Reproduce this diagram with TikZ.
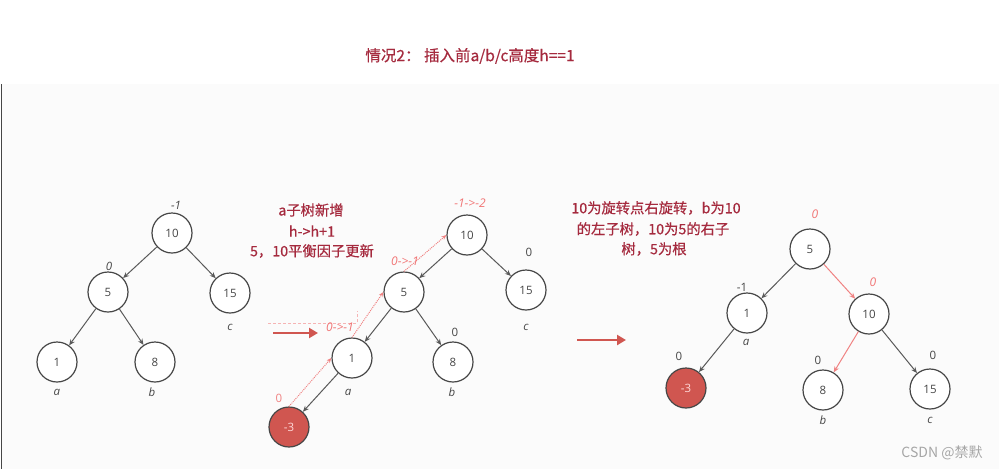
\documentclass[tikz,border=0pt]{standalone}
\usepackage{fontspec}
\setmainfont{Open Sans}
\newfontfamily\cjk[FakeBold=0.5]{Noto Sans CJK SC}
\newfontfamily\cjkw{Noto Sans CJK SC}
\usetikzlibrary{arrows.meta}
\definecolor{txtred}{RGB}{165,42,62}
\definecolor{fillred}{RGB}{208,86,80}
\definecolor{lightred}{RGB}{240,130,130}
\definecolor{ink}{RGB}{70,70,70}
\tikzset{
  tn/.style={circle,draw=ink,line width=1.2pt,minimum size=40pt,inner sep=0pt,font=\fontsize{11.5}{13}\selectfont,text=ink,fill=white},
  hot/.style={tn,fill=fillred,text=white!85!red},
  edge/.style={draw=ink!90,line width=1pt,-{Stealth[length=6pt,width=5pt]}},
  redge/.style={draw=lightred,line width=1pt,-{Stealth[length=6pt,width=5pt]}},
  dotarr/.style={draw=lightred,line width=1pt,densely dotted,-{Stealth[length=5pt,width=4pt]}},
  lab/.style={font=\fontsize{11.5}{13}\selectfont\itshape,text=ink},
  num/.style={font=\fontsize{11.5}{13}\selectfont,text=ink},
  rlab/.style={font=\fontsize{12}{13}\selectfont\itshape,text=lightred!90!red},
  note/.style={font=\cjk\fontsize{14.3}{15}\selectfont,text=txtred},
  bigarr/.style={draw=fillred,line width=2.4pt,-{Triangle[length=9pt,width=10pt]}}
}
\begin{document}
\begin{tikzpicture}[x=1pt,y=-1pt]
\useasboundingbox (0,0) rectangle (999,469);
\fill[white] (0,0) rectangle (999,469);
\fill[black!1.5] (2,84) rectangle (999,469);
\draw[ink,line width=1.5pt] (1.5,84) -- (1.5,469);
% title
\node[font=\cjk\fontsize{15.5}{17}\selectfont,text=txtred] (title) at (470,56) {情况2： 插入前a/b/c高度h==1};
% ---- tree 1
\node[tn] (a10) at (172,233) {10};
\node[tn] (a5) at (108,292) {5};
\node[tn] (a15) at (230,293) {15};
\node[tn] (a1) at (57,362) {1};
\node[tn] (a8) at (155,362) {8};
\draw[edge] (a10) -- (a5);
\draw[edge] (a10) -- (a15);
\draw[edge] (a5) -- (a1);
\draw[edge] (a5) -- (a8);
\node[lab] (la10) at (176,205) {-1};
\node[lab] (la5) at (109,266) {0};
\node[lab] (lac) at (230,327) {c};
\node[lab] (laa) at (57,392) {a};
\node[lab] (lab) at (152,392) {b};
% ---- note 1
\node[note] (n1a) at (311,210) {a子树新增};
\node[note] (n1b) at (312,231) {h->h+1};
\node[note] (n1c) at (312,251) {5，10平衡因子更新};
\coordinate (ar1s) at (273,333);
\coordinate (ar1e) at (318,333);
\draw[bigarr] (ar1s) -- (ar1e);
\coordinate (d1) at (268,323);
\coordinate (d2) at (357,323);
\coordinate (d3) at (357,311);
\draw[lightred!60,densely dashed,line width=0.5pt] (d1) -- (d2) -- (d3);
% ---- tree 2
\node[tn] (b10) at (467,235) {10};
\node[tn] (b5) at (404,292) {5};
\node[tn] (b15) at (526,290) {15};
\node[tn] (b1) at (352,358) {1};
\node[tn] (b8) at (453,362) {8};
\node[hot] (bm3) at (289,427) {-3};
\draw[edge] (b10) -- (b5);
\draw[edge] (b10) -- (b15);
\draw[edge] (b5) -- (b1);
\draw[edge] (b5) -- (b8);
\draw[edge] (b1) -- (bm3);
\draw[dotarr] (bm3.north) -- (b1.west);
\draw[dotarr] (b1.north) -- (b5.west);
\draw[dotarr] (b5.north) -- (b10.west);
\node[rlab] (lb10) at (470,203) {-1->-2};
\node[num] (lb15) at (529,252) {0};
\node[rlab] (lb5) at (405,261) {0->-1};
\node[rlab] (lb1) at (340,327) {0->-1};
\node[num] (lb8) at (455,332) {0};
\node[lab] (lbc) at (526,327) {c};
\node[lab] (lba) at (348,392) {a};
\node[lab] (lbb) at (452,392) {b};
\node[font=\fontsize{11.5}{13}\selectfont,text=lightred] (lbm3) at (279,398) {0};
% ---- note 2
\node[note] (n2a) at (656,208) {10为旋转点右旋转，b为10};
\node[note] (n2b) at (653,229) {的左子树，10为5的右子};
\node[note] (n2c) at (654,249) {树，5为根};
\coordinate (ar2s) at (577,340);
\coordinate (ar2e) at (626,340);
\draw[bigarr] (ar2s) -- (ar2e);
% ---- tree 3
\node[tn] (c5) at (810,249) {5};
\node[tn] (c1) at (747,313) {1};
\node[tn] (c10) at (869,314) {10};
\node[hot] (cm3) at (686,388) {-3};
\node[tn] (c8) at (823,390) {8};
\node[tn] (c15) at (930,389) {15};
\draw[edge] (c5) -- (c1);
\draw[redge] (c5) -- (c10);
\draw[edge] (c1) -- (cm3);
\draw[redge] (c10) -- (c8);
\draw[edge] (c10) -- (c15);
\node[rlab] (lc5) at (815,214) {0};
\node[num] (lc1) at (742,287) {-1};
\node[rlab] (lc10) at (873,282) {0};
\node[lab] (lca) at (746,342) {a};
\node[num] (lcm3) at (679,356) {0};
\node[num] (lc8) at (818,360) {0};
\node[num] (lc15) at (933,355) {0};
\node[lab] (lcb) at (823,420) {b};
\node[lab] (lcc) at (930,420) {c};
% watermark
\node[font=\cjkw\fontsize{14}{15}\selectfont,text=black!35] (wm) at (942,453) {CSDN @禁默};
\end{tikzpicture}
\end{document}
